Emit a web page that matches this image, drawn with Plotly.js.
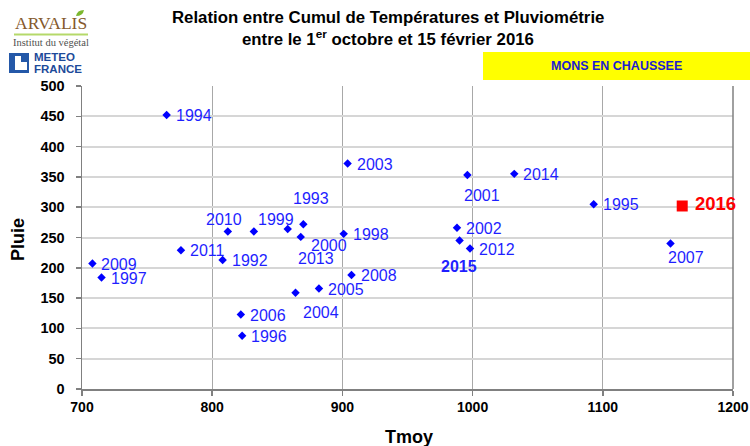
<!DOCTYPE html>
<html>
<head>
<meta charset="utf-8">
<script src="https://cdn.plot.ly/plotly-3.0.1.min.js"></script>
<style>html,body{margin:0;padding:0;background:#fff;}#chart{width:750px;height:446px;}</style>
</head>
<body>
<div id="chart"></div>
<script>
// ---- data ----
var years = ['1992','1993','1994','1995','1996','1997','1998','1999','2000','2001','2002','2003','2004','2005','2006','2007','2008','2009','2010','2011','2012','2013','2014','2015','2016'];
var tmoy  = [808, 870, 765, 1093, 823, 715, 901, 832, 868, 996, 988, 904, 864, 882, 822, 1152, 907, 708, 812, 776, 998, 858, 1032, 990, 1161];
var pluie = [213, 272, 452, 305, 88, 184, 256, 260, 251, 353, 266, 372, 159, 166, 123, 240, 188, 207, 260, 229, 232, 264, 355, 245, 302];
var currentYear = '2016';
var xTicks = [700, 800, 900, 1000, 1100, 1200];
var yTicks = [0, 50, 100, 150, 200, 250, 300, 350, 400, 450, 500];
var station = 'MONS EN CHAUSSEE';

// ---- label placement (style, px offsets from the marker) ----
var labelAnchor = {'1993':'center','1999':'center','2000':'center','2001':'center','2004':'center','2007':'center','2010':'center','2013':'center','2015':'center'};
var labelDx = {'1993':7.5,'1999':22.5,'2000':28.5,'2001':14.3,'2004':25.3,'2007':15,'2010':-3.5,'2013':27.8,'2015':-0.5,'2016':14};
var labelDy = {'1993':-25.7,'1999':-12.4,'2000':8.3,'2001':20,'2004':19.6,'2007':14.3,'2010':-12.4,'2013':29.3,'2015':26.4,'2016':-2};

var L = 82, R = 17, T = 86, B = 57, W = 750, H = 446;
var pw = W - L - R, ph = H - T - B;
function px(x){ return (x - L) / pw; }
function py(y){ return (H - B - y) / ph; }

var histX = [], histY = [], curX = [], curY = [];
for (var i = 0; i < years.length; i++) {
  if (years[i] === currentYear) { curX.push(tmoy[i]); curY.push(pluie[i]); }
  else { histX.push(tmoy[i]); histY.push(pluie[i]); }
}

var traces = [
  {x: histX, y: histY, type: 'scatter', mode: 'markers', hoverinfo: 'skip',
   marker: {symbol: 'diamond', size: 6.5, color: '#0000ff', line: {width: 0}}},
  {x: curX, y: curY, type: 'scatter', mode: 'markers', hoverinfo: 'skip',
   marker: {symbol: 'square', size: 11, color: '#ff0000', line: {width: 0}}}
];

var SANS = 'Liberation Sans, Arial, sans-serif';
var annotations = [];
for (var i = 0; i < years.length; i++) {
  var yr = years[i];
  var anc = labelAnchor[yr] || 'left';
  var dx = (yr in labelDx) ? labelDx[yr] : 10;
  var dy = (yr in labelDy) ? labelDy[yr] : 0.7;
  var f = {family: SANS, size: 16, color: '#1f1fff'};
  var txt = yr;
  if (yr === '2015') { f = {family: SANS, size: 16, color: '#1f1fff'}; txt = '<b>' + yr + '</b>'; }
  if (yr === currentYear) { f = {family: SANS, size: 18.5, color: '#ff0000'}; txt = '<b>' + yr + '</b>'; }
  annotations.push({x: tmoy[i], y: pluie[i], xref: 'x', yref: 'y', text: txt, showarrow: false,
    xanchor: anc, yanchor: 'middle', xshift: (anc === 'left' ? dx - 2 : dx), yshift: -dy, font: f, borderpad: 0});
}

// titles and logos
annotations.push({xref: 'paper', yref: 'paper', x: px(388), y: py(18), text: '<b>Relation entre Cumul de Températures et Pluviométrie</b>',
  showarrow: false, xanchor: 'center', yanchor: 'middle', font: {family: SANS, size: 16.8, color: '#000'}});
annotations.push({xref: 'paper', yref: 'paper', x: px(388), y: py(38), text: '<b>entre le 1<sup>er</sup> octobre et 15 février 2016</b>',
  showarrow: false, xanchor: 'center', yanchor: 'middle', font: {family: SANS, size: 16.8, color: '#000'}});
annotations.push({xref: 'paper', yref: 'paper', x: px(616), y: py(66), text: '<b>' + station + '</b>',
  showarrow: false, xanchor: 'center', yanchor: 'middle', font: {family: SANS, size: 12.5, color: '#1c1cd0'}});
annotations.push({xref: 'paper', yref: 'paper', x: px(18), y: py(240), text: '<b>Pluie</b>', textangle: -90,
  showarrow: false, xanchor: 'center', yanchor: 'middle', font: {family: SANS, size: 18, color: '#000'}});
annotations.push({xref: 'paper', yref: 'paper', x: px(409), y: py(437), text: '<b>Tmoy</b>',
  showarrow: false, xanchor: 'center', yanchor: 'middle', font: {family: SANS, size: 18, color: '#000'}});
annotations.push({xref: 'paper', yref: 'paper', x: px(51), y: py(23), text: 'ARVALIS',
  showarrow: false, xanchor: 'center', yanchor: 'middle', font: {family: 'Liberation Serif, Times New Roman, serif', size: 17.5, color: '#85592c'}});
annotations.push({xref: 'paper', yref: 'paper', x: px(51), y: py(43), text: 'Institut du végétal',
  showarrow: false, xanchor: 'center', yanchor: 'middle', font: {family: 'Liberation Serif, Times New Roman, serif', size: 10.5, color: '#505050'}});
annotations.push({xref: 'paper', yref: 'paper', x: px(32), y: py(57.5), text: '<b>METEO</b>',
  showarrow: false, xanchor: 'left', yanchor: 'middle', font: {family: SANS, size: 11.5, color: '#1d4a9a'}});
annotations.push({xref: 'paper', yref: 'paper', x: px(32), y: py(69.5), text: '<b>FRANCE</b>',
  showarrow: false, xanchor: 'left', yanchor: 'middle', font: {family: SANS, size: 11.5, color: '#1d4a9a'}});

var shapes = [
  {type: 'rect', xref: 'paper', yref: 'paper', x0: px(483), x1: px(750), y0: py(52), y1: py(80), fillcolor: '#ffff00', line: {width: 0}, layer: 'below'},
  {type: 'line', xref: 'paper', yref: 'paper', x0: px(14), x1: px(88), y0: py(34.5), y1: py(34.5), line: {color: '#b5d96a', width: 2}},
  {type: 'path', xref: 'paper', yref: 'paper', path: 'M ' + px(76) + ' ' + py(16) + ' Q ' + px(77) + ' ' + py(10) + ' ' + px(84) + ' ' + py(10) + ' Q ' + px(83) + ' ' + py(16) + ' ' + px(76) + ' ' + py(16) + ' Z', fillcolor: '#7cb82f', line: {width: 0}},
  {type: 'rect', xref: 'paper', yref: 'paper', x0: px(9), x1: px(29), y0: py(53), y1: py(73), fillcolor: '#2458a8', line: {width: 0}},
  {type: 'rect', xref: 'paper', yref: 'paper', x0: px(15), x1: px(27), y0: py(56), y1: py(70), fillcolor: '#ffffff', line: {width: 0}},
  {type: 'rect', xref: 'paper', yref: 'paper', x0: px(21), x1: px(27), y0: py(56), y1: py(62), fillcolor: '#2458a8', line: {width: 0}},
  {type: 'line', xref: 'paper', yref: 'paper', x0: 1, x1: 1, y0: 0, y1: 1, line: {color: '#808080', width: 1.5}}
];

var layout = {
  width: W, height: H,
  margin: {l: L, r: R, t: T, b: B, pad: 0},
  paper_bgcolor: '#ffffff', plot_bgcolor: '#ffffff',
  showlegend: false,
  font: {family: SANS, color: '#000'},
  xaxis: {range: [700, 1200], tickvals: xTicks, ticktext: xTicks.map(String),
    showgrid: true, gridcolor: '#a8a8a8', gridwidth: 1, zeroline: false,
    showline: true, linecolor: '#808080', linewidth: 1.5,
    ticks: 'outside', ticklen: 5, tickcolor: '#808080', tickwidth: 1.5,
    tickfont: {size: 14, weight: 'bold', color: '#000'}, fixedrange: true},
  yaxis: {range: [0, 500], tickvals: yTicks, ticktext: yTicks.map(String),
    showgrid: true, gridcolor: '#d6d6d6', gridwidth: 2, zeroline: false,
    showline: true, linecolor: '#808080', linewidth: 1.5,
    ticks: 'outside', ticklen: 5, tickcolor: '#808080', tickwidth: 1.5,
    ticklabelstandoff: 8,
    tickfont: {size: 14.5, weight: 'bold', color: '#000'}, fixedrange: true},
  annotations: annotations,
  shapes: shapes
};

Plotly.newPlot('chart', traces, layout, {staticPlot: true, displayModeBar: false});
</script>
</body>
</html>
